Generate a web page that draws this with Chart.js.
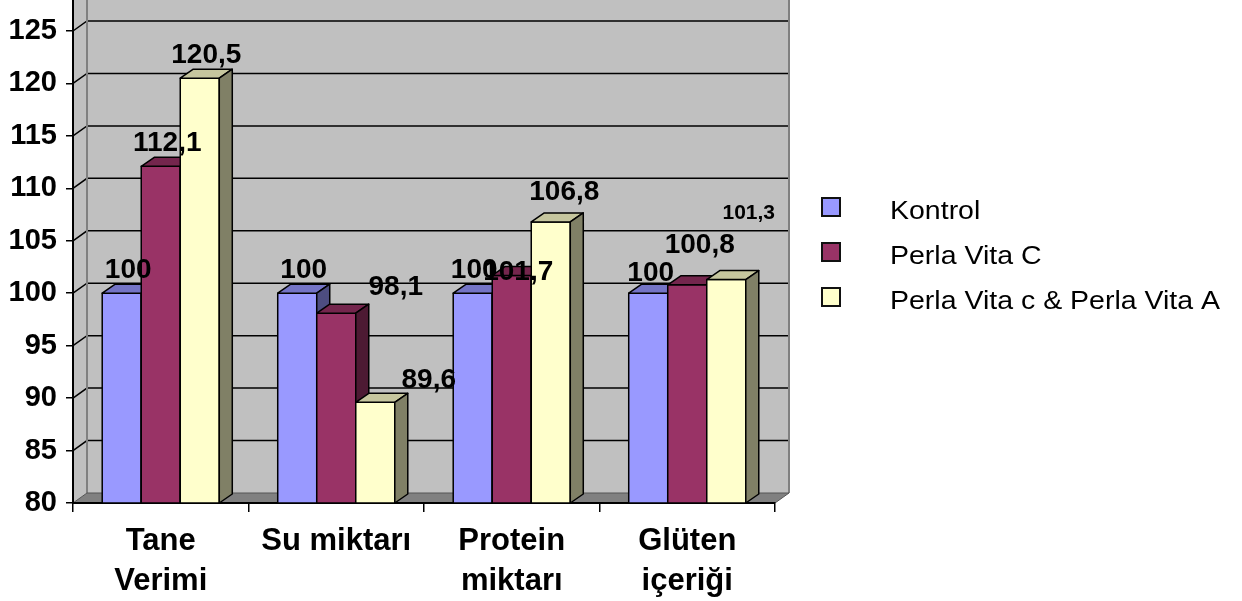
<!DOCTYPE html>
<html>
<head>
<meta charset="utf-8">
<script src="https://cdn.jsdelivr.net/npm/chart.js@4"></script>
<style>
  html, body { margin: 0; padding: 0; background: #fff; }
  #wrap { width: 1242px; height: 601px; }
</style>
</head>
<body>
<div id="wrap"><canvas id="chart"></canvas></div>
<script>
// data
var categories = [['Tane', 'Verimi'], 'Su miktarı', ['Protein', 'miktarı'], ['Glüten', 'içeriği']];
var seriesNames = ['Kontrol', 'Perla Vita C', 'Perla Vita c & Perla Vita A'];
var kontrol = [100, 100, 100, 100];
var perlaC = [112.1, 98.1, 101.7, 100.8];
var perlaCA = [120.5, 89.6, 106.8, 101.3];
var yMin = 80, yMax = 125, yStep = 5;

// styles
var FONT = '"Liberation Sans", Arial, sans-serif';
var faces = [
	{ front: '#9999FF', top: '#7474C6', side: '#4D4D80' },
	{ front: '#993366', top: '#74264D', side: '#4D1A33' },
	{ front: '#FFFFCC', top: '#C6C69E', side: '#808066' }
];
var BAR_DX = 13, BAR_DY = 9;     // depth of the bars
var WALL_DX = 14, WALL_DY = 10;  // depth of the walls
// hand placed labels in the original (dx, dy, font size)
var labelNudge = [
	[[0, 0, 28], [0, 0, 28], [-5, 0, 28], [-4, 3, 28]],
	[[0, 0, 28], [53, -3, 28], [0, 20, 28], [6, -17, 28]],
	[[0, 0, 28], [47, 1, 28], [7, -7, 28], [16, -43, 21]]
];

function poly(ctx, pts, fill, stroke, lw) {
	ctx.beginPath();
	ctx.moveTo(pts[0][0], pts[0][1]);
	for (var i = 1; i < pts.length; i++) ctx.lineTo(pts[i][0], pts[i][1]);
	ctx.closePath();
	if (fill) { ctx.fillStyle = fill; ctx.fill(); }
	if (stroke) { ctx.strokeStyle = stroke; ctx.lineWidth = lw || 1; ctx.stroke(); }
}

// walls, floor and back gridlines
var wallPlugin = {
	id: 'wall3d',
	beforeDraw: function(chart) {
		var ctx = chart.ctx, a = chart.chartArea, ys = chart.scales.y;
		var L = a.left, R = a.right, B = a.bottom;
		ctx.save();
		ctx.fillStyle = '#C0C0C0';
		ctx.fillRect(L + WALL_DX, 0, R - L, B - WALL_DY);
		poly(ctx, [[L, 0], [L + WALL_DX, 0], [L + WALL_DX, B - WALL_DY], [L, B]], '#C0C0C0');

		ctx.strokeStyle = '#000';
		ctx.lineWidth = 1.5;
		ys.ticks.forEach(function(t) {
			if (t.value === yMin) return;
			var py = ys.getPixelForValue(t.value);
			ctx.beginPath();
			ctx.moveTo(L, py);
			ctx.lineTo(L + WALL_DX, py - WALL_DY);
			ctx.lineTo(R + WALL_DX, py - WALL_DY);
			ctx.stroke();
		});

		// wall edges
		ctx.strokeStyle = '#808080';
		ctx.lineWidth = 2;
		ctx.beginPath();
		ctx.moveTo(L + WALL_DX, 0); ctx.lineTo(L + WALL_DX, B - WALL_DY);
		ctx.moveTo(R + WALL_DX, 0); ctx.lineTo(R + WALL_DX, B - WALL_DY);
		ctx.stroke();

		// floor
		poly(ctx, [[L, B], [R, B], [R + WALL_DX, B - WALL_DY], [L + WALL_DX, B - WALL_DY]], '#808080', '#555', 1);

		// axis line above the plot area
		ctx.strokeStyle = '#000';
		ctx.lineWidth = 2;
		ctx.beginPath();
		ctx.moveTo(L, 0); ctx.lineTo(L, a.top);
		ctx.stroke();
		ctx.restore();
	}
};

// 3d bars, labels and legend
var barPlugin = {
	id: 'bars3d',
	beforeDatasetDraw: function() { return false; },
	afterDatasetsDraw: function(chart) {
		var ctx = chart.ctx, bottom = chart.chartArea.bottom;
		ctx.save();
		ctx.lineJoin = 'round';
		chart.data.datasets.forEach(function(ds, i) {
			var f = faces[i];
			chart.getDatasetMeta(i).data.forEach(function(bar) {
				var p = bar.getProps(['x', 'y', 'base', 'width'], true);
				var x0 = p.x - p.width / 2, x1 = p.x + p.width / 2, top = p.y, base = Math.min(p.base, bottom);
				poly(ctx, [[x0, top], [x1, top], [x1, base], [x0, base]], f.front, '#000', 1.5);
				poly(ctx, [[x0, top], [x0 + BAR_DX, top - BAR_DY], [x1 + BAR_DX, top - BAR_DY], [x1, top]], f.top, '#000', 1.5);
				poly(ctx, [[x1, top], [x1 + BAR_DX, top - BAR_DY], [x1 + BAR_DX, base - BAR_DY], [x1, base]], f.side, '#000', 1.5);
			});
		});

		ctx.fillStyle = '#000';
		ctx.textAlign = 'center';
		ctx.textBaseline = 'middle';
		chart.data.datasets.forEach(function(ds, i) {
			chart.getDatasetMeta(i).data.forEach(function(bar, j) {
				var p = bar.getProps(['x', 'y'], true);
				var n = labelNudge[i][j];
				ctx.font = 'bold ' + n[2] + 'px ' + FONT;
				ctx.fillText(String(ds.data[j]).replace('.', ','), p.x + BAR_DX / 2 + n[0], p.y - 23 + n[1]);
			});
		});
		ctx.restore();
	},
	afterDraw: function(chart) {
		var ctx = chart.ctx;
		ctx.save();
		ctx.textBaseline = 'middle';
		ctx.textAlign = 'left';
		chart.data.datasets.forEach(function(ds, i) {
			var cy = 207 + i * 45;
			ctx.fillStyle = ds.backgroundColor;
			ctx.fillRect(822, cy - 9, 18, 18);
			ctx.strokeStyle = '#111';
			ctx.lineWidth = 2;
			ctx.strokeRect(822, cy - 9, 18, 18);
			ctx.fillStyle = '#000';
			ctx.save();
			ctx.translate(890, cy + 5);
			ctx.scale(1.14, 1);
			ctx.font = '25px ' + FONT;
			ctx.fillText(ds.label, 0, 0);
			ctx.restore();
		});
		ctx.restore();
	}
};

var chart = new Chart(document.getElementById('chart'), {
	type: 'bar',
	data: {
		labels: categories,
		datasets: [
			{ label: seriesNames[0], data: kontrol, backgroundColor: faces[0].front },
			{ label: seriesNames[1], data: perlaC, backgroundColor: faces[1].front },
			{ label: seriesNames[2], data: perlaCA, backgroundColor: faces[2].front }
		]
	},
	options: {
		responsive: true,
		maintainAspectRatio: false,
		animation: false,
		datasets: { bar: { categoryPercentage: 0.667, barPercentage: 1 } },
		layout: { padding: { left: 0, top: 31, right: 467, bottom: 0 } },
		plugins: { legend: { display: false }, tooltip: { enabled: false } },
		scales: {
			x: {
				grid: { offset: true, drawOnChartArea: false, tickLength: 9, color: '#000', lineWidth: 1.5 },
				border: { color: '#000', width: 2 },
				ticks: { color: '#000', padding: 9, maxRotation: 0, autoSkip: false,
					font: { family: FONT, size: 31, weight: 'bold', lineHeight: 1.3 } },
				afterFit: function(s) { s.height = 98; }
			},
			y: {
				min: yMin, max: yMax,
				grid: { drawOnChartArea: false, tickLength: 7, color: '#000', lineWidth: 1.5 },
				border: { color: '#000', width: 2 },
				ticks: { stepSize: yStep, color: '#000', padding: 9,
					font: { family: FONT, size: 29, weight: 'bold' } },
				afterFit: function(s) { s.width = 73; }
			}
		}
	},
	plugins: [wallPlugin, barPlugin]
});
</script>
</body>
</html>
